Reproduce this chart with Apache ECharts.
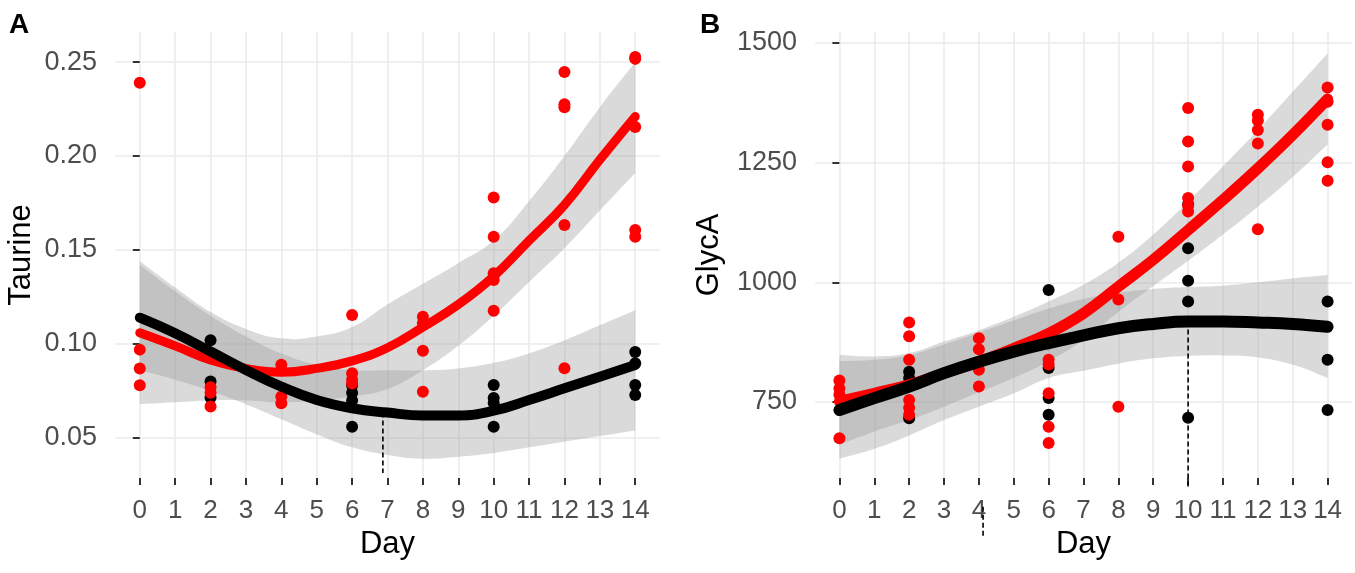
<!DOCTYPE html>
<html>
<head>
<meta charset="utf-8">
<script src="https://cdn.jsdelivr.net/npm/echarts@6/dist/echarts.min.js"></script>
<style>
html,body{margin:0;padding:0;background:#ffffff;}
#chart{width:1355px;height:573px;}
</style>
</head>
<body>
<div id="chart"></div>
<script>
// ---------- shared ----------
const dayTicks = [0,1,2,3,4,5,6,7,8,9,10,11,12,13,14];
const fitDays  = [0,1,2,3,4,5,6,7,8,9,10,11,12,13,14];
const taurineTicks = [0.05,0.10,0.15,0.20,0.25];
const glycaTicks = [750,1000,1250,1500];

// ---------- Panel A : Taurine ----------
const taurineRedFit   = [0.106,0.099,0.0915,0.087,0.085,0.087,0.091,0.098,0.109,0.121,0.136,0.155,0.174,0.198,0.221];
const taurineRedUpper = [0.144,0.130,0.117,0.108,0.103,0.104,0.109,0.121,0.132,0.143,0.155,0.176,0.200,0.226,0.250];
const taurineRedLower = [0.068,0.069,0.070,0.070,0.069,0.070,0.072,0.076,0.086,0.099,0.115,0.133,0.151,0.171,0.191];
const taurineBlackFit   = [0.114,0.1057,0.096,0.0862,0.0773,0.0702,0.0658,0.0635,0.062,0.062,0.0645,0.0702,0.0764,0.0826,0.0888];
const taurineBlackUpper = [0.142,0.128,0.115,0.104,0.095,0.089,0.086,0.086,0.086,0.087,0.090,0.095,0.102,0.110,0.118];
const taurineBlackLower = [0.086,0.081,0.075,0.068,0.060,0.052,0.045,0.041,0.039,0.040,0.042,0.045,0.048,0.051,0.054];
const taurineRedPoints = [
  [0,0.239],[0,0.097],[0,0.087],[0,0.078],
  [2,0.0924],[2,0.077],[2,0.074],[2,0.0667],
  [4,0.089],[4,0.086],[4,0.072],[4,0.0685],
  [6,0.1154],[6,0.0844],[6,0.081],[6,0.079],
  [8,0.1145],[8,0.111],[8,0.0964],[8,0.0746],
  [10,0.178],[10,0.157],[10,0.1376],[10,0.134],[10,0.1177],
  [12,0.2447],[12,0.2275],[12,0.226],[12,0.1633],[12,0.0871],
  [14,0.2527],[14,0.2517],[14,0.2154],[14,0.1606],[14,0.157]
];
const taurineBlackPoints = [
  [2,0.102],[2,0.080],[2,0.0715],
  [6,0.078],[6,0.074],[6,0.070],[6,0.056],
  [10,0.0782],[10,0.0713],[10,0.0686],[10,0.056],
  [14,0.0957],[14,0.0897],[14,0.0782],[14,0.0729]
];
const taurineDash = [[6.87,0.0635],[6.87,0.0314]];

// ---------- Panel B : GlycA ----------
const glycaRedFit   = [751,768,786,810,834,862,893,935,991,1047,1109,1172,1238,1308,1383];
const glycaRedUpper = [848,845,852,876,900,928,960,995,1041,1100,1169,1242,1318,1398,1478];
const glycaRedLower = [660,688,712,740,770,800,835,880,938,992,1045,1100,1158,1220,1288];
const glycaBlackFit   = [733,758,782,810,834,855,873,889,904,913,918,918,916,913,907];
const glycaBlackUpper = [835,838,848,870,895,920,945,965,978,986,990,993,1000,1008,1015];
const glycaBlackLower = [631,652,680,712,740,768,800,815,830,841,846,847,843,828,800];
const glycaRedPoints = [
  [0,795],[0,778],[0,765],[0,674],
  [2,916],[2,887],[2,838],[2,754],[2,738],[2,723],
  [4,883],[4,860],[4,817],[4,782],
  [6,838],[6,828],[6,768],[6,698],[6,664],
  [8,1095],[8,964],[8,740],
  [10,1364],[10,1294],[10,1242],[10,1176],[10,1160],[10,1148],
  [12,1350],[12,1338],[12,1318],[12,1290],[12,1111],
  [14,1407],[14,1377],[14,1329],[14,1251],[14,1212]
];
const glycaBlackPoints = [
  [2,813],[2,800],[2,790],[2,716],
  [6,984],[6,821],[6,758],[6,723],
  [10,1163],[10,1071],[10,1003],[10,960],[10,717],
  [14,960],[14,838],[14,733]
];
const glycaDash = [[10,918],[10,572]];
const glycaStrayDash = [[4.12,531],[4.12,466]];

// ---------- helpers ----------
const FONT = "'Liberation Sans', Arial, sans-serif";
const zip = (xs, ys) => xs.map((x,i) => [x, ys[i]]);

// confidence ribbon drawn as one smoothed polygon through the axis scales
function ribbon(idx, lower, upper) {
  return {
    type:'custom', xAxisIndex:idx, yAxisIndex:idx, silent:true,
    data: fitDays.map((d,i) => [d, lower[i], upper[i]]),
    encode:{x:0, y:[1,2]},
    renderItem:(params, api) => {
      if (params.dataIndex !== 0) return null;
      const up = fitDays.map((d,i) => api.coord([d, upper[i]]));
      const lo = fitDays.map((d,i) => api.coord([d, lower[i]])).reverse();
      const n = up.length;
      // corner points doubled so the ends stay straight and square
      const points = [up[0]].concat(up, [up[n-1]], [lo[0]], lo, [lo[n-1]]);
      return { type:'polygon', shape:{points:points, smooth:0.45},
               style:{fill:'#999999', opacity:0.36} };
    }
  };
}
function fitLine(idx, vals, color, w) {
  return { type:'line', xAxisIndex:idx, yAxisIndex:idx, smooth:0.45, symbol:'none', silent:true,
    lineStyle:{color:color, width:w, cap:'round'}, data: zip(fitDays, vals) };
}
function dash(idx, pts) {
  return { type:'line', xAxisIndex:idx, yAxisIndex:idx, symbol:'none', silent:true, clip:false,
    lineStyle:{color:'#000', width:1.6, type:[5,3]}, data: pts };
}
function pts(idx, data, color) {
  return { type:'scatter', xAxisIndex:idx, yAxisIndex:idx, symbolSize:12, silent:true,
    itemStyle:{color:color, opacity:1}, data: data };
}
function xAxis(idx) {
  return { type:'value', gridIndex:idx, min:-0.7, max:14.7, name:'Day', nameLocation:'middle', nameGap:49,
    nameTextStyle:{fontSize:31, color:'#000', fontFamily:FONT},
    axisLine:{show:false},
    axisTick:{show:true, length:7, customValues:dayTicks, lineStyle:{color:'#333', width:2}},
    axisLabel:{customValues:dayTicks, fontSize:26, color:'#4d4d4d', fontFamily:FONT, margin:20},
    splitLine:{show:true, lineStyle:{color:'#ebebeb', width:1.6}} };
}
function yAxis(idx, min, max, ticks, name, gap, fmt) {
  return { type:'value', gridIndex:idx, min:min, max:max, name:name, nameLocation:'middle', nameGap:gap,
    nameTextStyle:{fontSize:31, color:'#000', fontFamily:FONT},
    axisLine:{show:false},
    axisTick:{show:true, length:7, customValues:ticks, lineStyle:{color:'#333', width:2}},
    axisLabel:{customValues:ticks, fontSize:27, color:'#4d4d4d', fontFamily:FONT, margin:18, formatter:fmt},
    splitLine:{show:true, lineStyle:{color:'#ebebeb', width:1.6}} };
}

const option = {
  animation:false,
  backgroundColor:'#ffffff',
  title:[
    {text:'A', left:4, top:6, textStyle:{fontSize:28, fontWeight:'bold', color:'#000', fontFamily:FONT}},
    {text:'B', left:695, top:6, textStyle:{fontSize:28, fontWeight:'bold', color:'#000', fontFamily:FONT}}
  ],
  grid:[
    {left:115, top:32, width:545, height:446},
    {left:815, top:32, width:537, height:446}
  ],
  xAxis:[xAxis(0), xAxis(1)],
  yAxis:[
    yAxis(0, 0.0287, 0.266, taurineTicks, 'Taurine', 78, v => v.toFixed(2)),
    yAxis(1, 591, 1523, glycaTicks, 'GlycA', 90, v => String(v))
  ],
  series:[
    ribbon(0,taurineRedLower,taurineRedUpper),
    fitLine(0,taurineRedFit,'#ff0000',9),
    ribbon(0,taurineBlackLower,taurineBlackUpper),
    fitLine(0,taurineBlackFit,'#000000',10),
    dash(0,taurineDash),
    pts(0,taurineBlackPoints,'#000000'),
    pts(0,taurineRedPoints,'#ff0000'),

    ribbon(1,glycaRedLower,glycaRedUpper),
    fitLine(1,glycaRedFit,'#ff0000',11),
    ribbon(1,glycaBlackLower,glycaBlackUpper),
    fitLine(1,glycaBlackFit,'#000000',12),
    dash(1,glycaDash),
    dash(1,glycaStrayDash),
    pts(1,glycaBlackPoints,'#000000'),
    pts(1,glycaRedPoints,'#ff0000')
  ]
};
const chart = echarts.init(document.getElementById('chart'), null, {renderer:'canvas'});
chart.setOption(option);
</script>
</body>
</html>
